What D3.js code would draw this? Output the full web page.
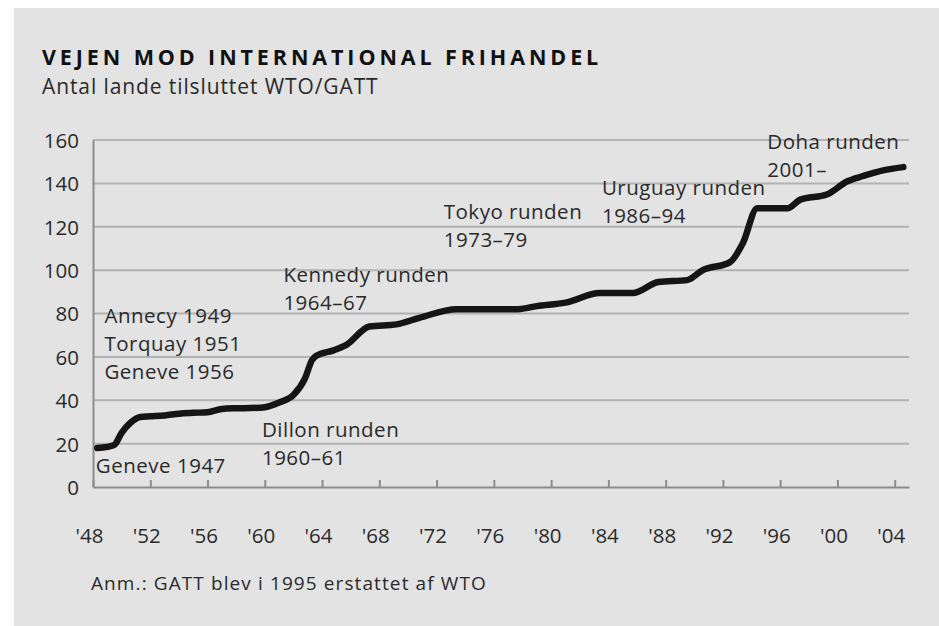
<!DOCTYPE html>
<html>
<head>
<meta charset="utf-8">
<script src="https://cdn.jsdelivr.net/npm/d3@7"></script>
<style>
  body { margin: 0; background: #fff; }
  text { font-family: "Open Sans", "Noto Sans", sans-serif; fill: #2a2a2a; }
</style>
</head>
<body>
<script>
// data
var years   = [1948.3, 1949, 1949.5, 1950, 1950.6, 1951.3, 1952, 1953, 1954, 1955, 1956, 1957, 1958, 1959, 1960,
               1961, 1962, 1962.8, 1963.3, 1963.6, 1964.8, 1965.7, 1967.3, 1969.2, 1970.8, 1973.4, 1977.7,
               1979, 1981, 1983.4, 1985.7, 1987.5, 1989.5, 1990.6, 1992.5, 1993.4, 1994.4, 1996.5, 1997.4,
               1999.3, 2000.7, 2001.8, 2003.2, 2004.6];
var members = [18, 18.5, 19.5, 25, 29.5, 32.3, 32.6, 33, 33.8, 34.2, 34.5, 36, 36.3, 36.4, 36.8,
               39, 42.4, 50, 58.5, 60.5, 63, 65.5, 74, 75, 78, 82, 82,
               83.4, 85, 89.4, 89.4, 94.5, 95.4, 100, 103.7, 112.5, 128.5, 128.5, 132.5,
               135, 141, 143.4, 146, 147.5];
var yTicks = [0, 20, 40, 60, 80, 100, 120, 140, 160];
var xTicks = [1948, 1952, 1956, 1960, 1964, 1968, 1972, 1976, 1980, 1984, 1988, 1992, 1996, 2000, 2004];
var rounds = [
  {lines: ["Geneve 1947"], year: 1948.2, val: 6.5},
  {lines: ["Annecy 1949", "Torquay 1951", "Geneve 1956"], year: 1948.8, val: 75.5},
  {lines: ["Dillon runden", "1960–61"], year: 1959.8, val: 23},
  {lines: ["Kennedy runden", "1964–67"], year: 1961.3, val: 94.5},
  {lines: ["Tokyo runden", "1973–79"], year: 1972.5, val: 123.5},
  {lines: ["Uruguay runden", "1986–94"], year: 1983.55, val: 134.5},
  {lines: ["Doha runden", "2001–"], year: 1995.1, val: 155.8}
];

var W = 939, H = 626;
var svg = d3.select("body").append("svg")
    .attr("width", W)
    .attr("height", H);

//grey panel
svg.append("rect")
    .attr("x", 14).attr("y", 8)
    .attr("width", W - 14).attr("height", H - 8)
    .attr("fill", "#e3e3e3");

var x = d3.scaleLinear().domain([1948, 2005]).range([93, 909]);
var y = d3.scaleLinear().domain([0, 160]).range([487, 140]);

//title
svg.append("text")
    .attr("x", 42).attr("y", 65)
    .attr("font-size", "21.5px")
    .attr("font-weight", "bold")
    .attr("letter-spacing", "3.9px")
    .style("fill", "#111")
    .text("VEJEN MOD INTERNATIONAL FRIHANDEL");

svg.append("text")
    .attr("x", 42).attr("y", 94)
    .attr("font-size", "21px")
    .attr("letter-spacing", "0.9px")
    .text("Antal lande tilsluttet WTO/GATT");

//gridlines
svg.append("g")
    .selectAll("line")
    .data(yTicks.slice(1))
    .enter().append("line")
    .attr("x1", x(1948)).attr("x2", x(2005))
    .attr("y1", function(d) { return y(d); })
    .attr("y2", function(d) { return y(d); })
    .attr("stroke", "#b2b2b2")
    .attr("stroke-width", 2);

//y axis
var yAxis = d3.axisLeft(y).tickValues(yTicks).tickSize(0).tickPadding(14);
var gy = svg.append("g")
    .attr("transform", "translate(" + x(1948) + ",0)")
    .call(yAxis);
gy.select(".domain").attr("stroke", "#8c8c8c").attr("stroke-width", 2);
gy.selectAll("text")
    .attr("font-size", "20.5px")
    .attr("dy", "0.36em")
    .style("font-family", "'Open Sans', 'Noto Sans', sans-serif")
    .style("fill", "#2a2a2a");

//x axis with ticks pointing up
var xAxis = d3.axisBottom(x).tickValues(xTicks).tickSize(-7).tickSizeOuter(0)
    .tickFormat(function(d) { return "'" + String(d).slice(2); });
var gx = svg.append("g")
    .attr("transform", "translate(0," + y(0) + ")")
    .call(xAxis);
gx.select(".domain").attr("stroke", "#8c8c8c").attr("stroke-width", 2);
gx.selectAll(".tick line").attr("stroke", "#8c8c8c").attr("stroke-width", 2);
gx.selectAll("text")
    .attr("y", 56)
    .attr("dy", 0)
    .attr("dx", -4)
    .attr("font-size", "20.5px")
    .style("font-family", "'Open Sans', 'Noto Sans', sans-serif")
    .style("fill", "#2a2a2a");

//round annotations
rounds.forEach(function(r) {
    var t = svg.append("text")
        .attr("x", x(r.year))
        .attr("y", y(r.val))
        .attr("font-size", "20.5px")
        .attr("letter-spacing", "0.5px");
    r.lines.forEach(function(s, i) {
        t.append("tspan")
            .attr("x", x(r.year))
            .attr("dy", i == 0 ? 0 : 28)
            .text(s);
    });
});

//the member line
var line = d3.line()
    .x(function(d, i) { return x(years[i]); })
    .y(function(d) { return y(d); })
    .curve(d3.curveMonotoneX);

svg.append("path")
    .datum(members)
    .attr("d", line)
    .attr("fill", "none")
    .attr("stroke", "#151515")
    .attr("stroke-width", 6.5)
    .attr("stroke-linecap", "round")
    .attr("stroke-linejoin", "round");

//footnote
svg.append("text")
    .attr("x", 91).attr("y", 590)
    .attr("font-size", "19px")
    .attr("letter-spacing", "1.1px")
    .text("Anm.: GATT blev i 1995 erstattet af WTO");
</script>
</body>
</html>
